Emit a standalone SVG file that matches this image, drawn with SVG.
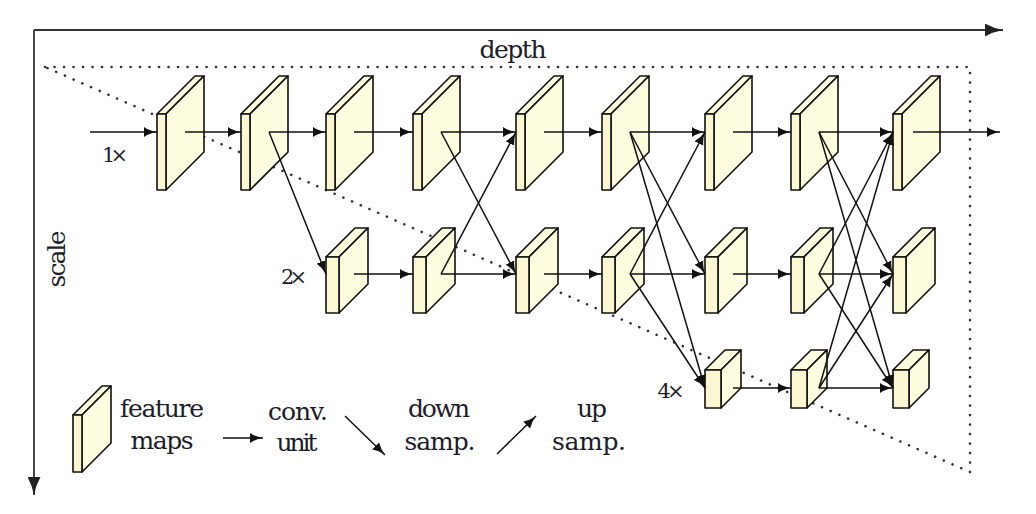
<svg xmlns="http://www.w3.org/2000/svg" width="1036" height="514" viewBox="0 0 1036 514">
<style>
.face{fill:#FFFDE0;stroke:#111;stroke-width:1.6;stroke-linejoin:round}
.front{fill:#FAF7D2;stroke:#111;stroke-width:1.6;stroke-linejoin:round}
.conn line{stroke:#111;stroke-width:1.5;marker-end:url(#ah)}
.axis{stroke:#333;stroke-width:1.8;fill:none;marker-end:url(#axh)}
.dot{fill:none;stroke:#333;stroke-width:2.6;stroke-linecap:round;stroke-dasharray:0.1 9.4}
</style>
<defs>
<marker id="ah" viewBox="0 0 13 10" refX="13" refY="5" markerWidth="13" markerHeight="10" orient="auto" markerUnits="userSpaceOnUse">
<path d="M13,5 Q5,3.6 0,0 L0,10 Q5,6.4 13,5 Z" fill="#111"/>
</marker>
<marker id="axh" viewBox="0 0 18 13" refX="18" refY="6.5" markerWidth="18" markerHeight="13" orient="auto" markerUnits="userSpaceOnUse">
<path d="M18,6.5 Q8,4.6 0,0 L0,13 Q8,8.4 18,6.5 Z" fill="#222"/>
</marker>
<g id="boxL">
<polygon class="face" points="0,0 9,0 47,-38 38,-38"/>
<polygon class="face" points="9,0 47,-38 47,38 9,76"/>
<rect class="front" x="0" y="0" width="9" height="76"/>
</g>
<g id="boxM">
<polygon class="face" points="0,0 13,0 42,-29 29,-29"/>
<polygon class="face" points="13,0 42,-29 42,27 13,56"/>
<rect class="front" x="0" y="0" width="13" height="56"/>
</g>
<g id="boxS">
<polygon class="face" points="0,0 16,0 36,-20 20,-20"/>
<polygon class="face" points="16,0 36,-20 36,18 16,38"/>
<rect class="front" x="0" y="0" width="16" height="38"/>
</g>
<g id="boxLeg">
<polygon class="face" points="0,0 9,0 38,-29 29,-29"/>
<polygon class="face" points="9,0 38,-29 38,28 9,57"/>
<rect class="front" x="0" y="0" width="9" height="57"/>
</g>
</defs>
<rect width="1036" height="514" fill="#fff"/>
<g id="axes">
<line class="axis" x1="34" y1="30" x2="1003" y2="30"/>
<line class="axis" x1="34" y1="30" x2="34" y2="495"/>
</g>
<polyline class="dot" points="45,67 970,67 970,472 45,67"/>
<g id="n1_1"><use href="#boxL" x="157" y="114"/></g>
<g id="n2_1"><use href="#boxL" x="241" y="114"/></g>
<g id="n3_1"><use href="#boxL" x="326" y="114"/></g>
<g id="n4_1"><use href="#boxL" x="413" y="114"/></g>
<g id="n5_1"><use href="#boxL" x="516" y="114"/></g>
<g id="n6_1"><use href="#boxL" x="602" y="114"/></g>
<g id="n7_1"><use href="#boxL" x="705" y="114"/></g>
<g id="n8_1"><use href="#boxL" x="791" y="114"/></g>
<g id="n9_1"><use href="#boxL" x="893" y="114"/></g>
<g id="n3_2"><use href="#boxM" x="326" y="257"/></g>
<g id="n4_2"><use href="#boxM" x="413" y="257"/></g>
<g id="n5_2"><use href="#boxM" x="516" y="257"/></g>
<g id="n6_2"><use href="#boxM" x="602" y="257"/></g>
<g id="n7_2"><use href="#boxM" x="705" y="257"/></g>
<g id="n8_2"><use href="#boxM" x="791" y="257"/></g>
<g id="n9_2"><use href="#boxM" x="893" y="257"/></g>
<g id="n7_3"><use href="#boxS" x="705" y="370"/></g>
<g id="n8_3"><use href="#boxS" x="791" y="370"/></g>
<g id="n9_3"><use href="#boxS" x="893" y="370"/></g>
<g id="legend_box"><use href="#boxLeg" x="73" y="415"/></g>
<g id="connectors" class="conn">
<line x1="90" y1="132" x2="157" y2="132"/>
<line x1="185" y1="132" x2="241" y2="132"/>
<line x1="269" y1="132" x2="326" y2="132"/>
<line x1="269" y1="132" x2="326" y2="274"/>
<line x1="354" y1="132" x2="413" y2="132"/>
<line x1="354" y1="274" x2="413" y2="274"/>
<line x1="441" y1="132" x2="516" y2="132"/>
<line x1="441" y1="132" x2="516" y2="274"/>
<line x1="441" y1="274" x2="516" y2="132"/>
<line x1="441" y1="274" x2="516" y2="274"/>
<line x1="544" y1="132" x2="602" y2="132"/>
<line x1="544" y1="274" x2="602" y2="274"/>
<line x1="630" y1="132" x2="705" y2="132"/>
<line x1="630" y1="132" x2="705" y2="274"/>
<line x1="630" y1="132" x2="705" y2="388"/>
<line x1="630" y1="274" x2="705" y2="132"/>
<line x1="630" y1="274" x2="705" y2="274"/>
<line x1="630" y1="274" x2="705" y2="388"/>
<line x1="733" y1="132" x2="791" y2="132"/>
<line x1="733" y1="274" x2="791" y2="274"/>
<line x1="733" y1="388" x2="791" y2="388"/>
<line x1="819" y1="132" x2="893" y2="132"/>
<line x1="819" y1="132" x2="893" y2="274"/>
<line x1="819" y1="132" x2="893" y2="388"/>
<line x1="819" y1="274" x2="893" y2="132"/>
<line x1="819" y1="274" x2="893" y2="274"/>
<line x1="819" y1="274" x2="893" y2="388"/>
<line x1="819" y1="388" x2="893" y2="132"/>
<line x1="819" y1="388" x2="893" y2="274"/>
<line x1="819" y1="388" x2="893" y2="388"/>
<line x1="913" y1="132" x2="1000" y2="132"/>
<line x1="223" y1="438" x2="263" y2="438"/>
<line x1="345" y1="416" x2="385" y2="455"/>
<line x1="497" y1="454" x2="536" y2="416"/>
</g>
<g id="labels" fill="#1c1c2a" text-anchor="middle" font-size="25" font-family="DejaVu Serif, serif">
<text x="513" y="58" textLength="67">depth</text>
<text transform="translate(65,259) rotate(-90)" textLength="57">scale</text>
<text font-size="21" x="115" y="162" textLength="26">1×</text>
<text font-size="21" x="294" y="284" textLength="26">2×</text>
<text font-size="21" x="671" y="398" textLength="27">4×</text>
<text x="162" y="417" textLength="84">feature</text>
<text x="162" y="449" textLength="63">maps</text>
<text x="298" y="420" textLength="60">conv.</text>
<text x="297" y="451" textLength="41">unit</text>
<text x="439" y="417" textLength="62">down</text>
<text x="440" y="450" textLength="71">samp.</text>
<text x="592" y="417" textLength="30">up</text>
<text x="589" y="450" textLength="74">samp.</text>
</g>
</svg>
